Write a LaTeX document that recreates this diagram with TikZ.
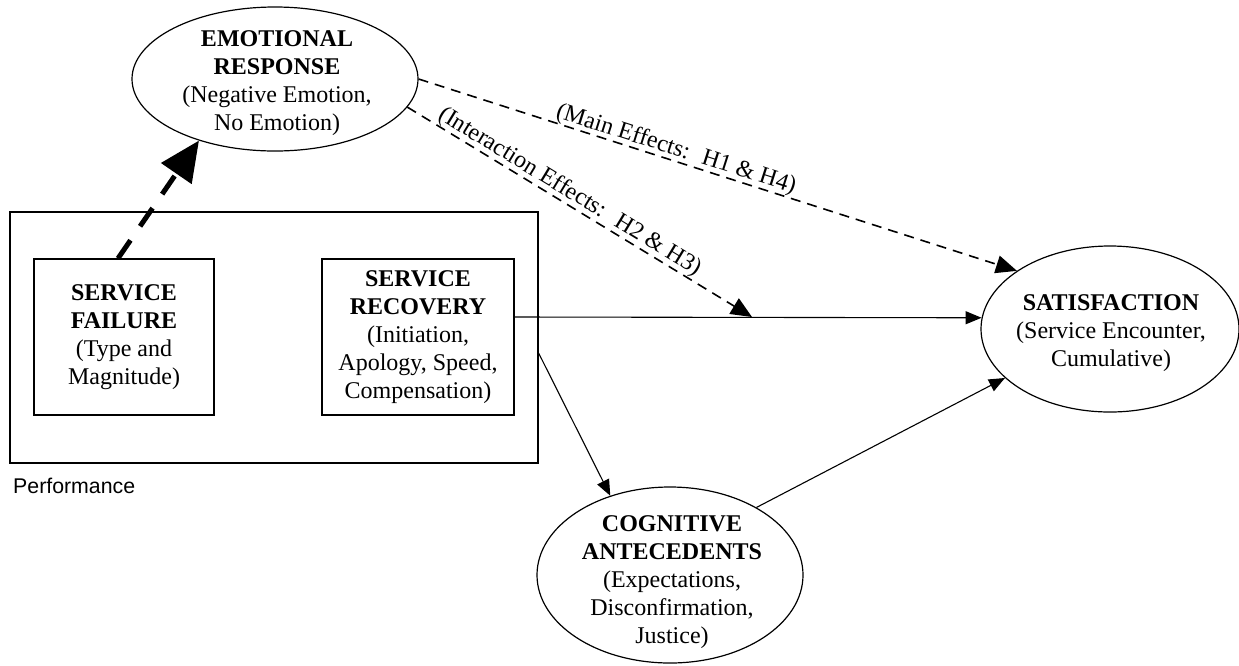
\documentclass[tikz,border=0pt]{standalone}
\usepackage{fontspec}
\setmainfont{Liberation Serif}
\newfontfamily\perffont{Liberation Sans}
\usetikzlibrary{arrows.meta,shapes.geometric}
\begin{document}
\begin{tikzpicture}[x=1pt,y=-1pt,
  boxnode/.style={draw,line width=1.2pt,rectangle,inner sep=0pt,align=center,font=\fontsize{24}{28}\selectfont},
  ellnode/.style={draw,line width=1.2pt,ellipse,inner sep=0pt},
  txtnode/.style={align=center,font=\fontsize{24}{28}\selectfont,inner sep=0pt},
  thinarrow/.style={line width=1.1pt,-{Triangle[length=16pt,width=13pt]}},
  dasharrow/.style={line width=1.6pt,dash pattern=on 10pt off 7pt,-{Triangle[length=21pt,width=18pt]}},
  bigarrow/.style={line width=5pt,dash pattern=on 22pt off 17pt,-{Triangle[length=40pt,width=36pt]}},
  lbl/.style={font=\fontsize{24}{28}\selectfont,inner sep=0pt}]
\useasboundingbox (0,0) rectangle (1239,665);

% Performance frame and boxes
\node[draw,line width=1.2pt,rectangle,inner sep=0pt,minimum width=528pt,minimum height=251pt] (outer) at (274,337.5) {};
\node[anchor=base west,inner sep=0pt,font=\perffont\fontsize{21.3}{24}\selectfont] (perf) at (13,493) {Performance};
\node[boxnode,minimum width=180pt,minimum height=156pt] (fail) at (124,337) {\textbf{SERVICE}\\\textbf{FAILURE}\\(Type and\\Magnitude)};
\node[boxnode,minimum width=192pt,minimum height=156pt] (rec) at (418,337) {\textbf{SERVICE}\\\textbf{RECOVERY}\\(Initiation,\\Apology, Speed,\\Compensation)};

% Ellipses
\node[ellnode,minimum width=286pt,minimum height=144pt] (emo) at (275,79) {};
\node[txtnode] (emot) at (277,83) {\textbf{EMOTIONAL}\\\textbf{RESPONSE}\\(Negative Emotion,\\No Emotion)};
\node[ellnode,minimum width=258pt,minimum height=166pt] (sat) at (1110,329) {};
\node[txtnode] (satt) at (1111,333) {\textbf{SATISFACTION}\\(Service Encounter,\\Cumulative)};
\node[ellnode,minimum width=266pt,minimum height=176pt] (cog) at (670,575) {};
\node[txtnode] (cogt) at (672,582) {\textbf{COGNITIVE}\\\textbf{ANTECEDENTS}\\(Expectations,\\Disconfirmation,\\Justice)};

\coordinate (hit) at (752,317);

% Connectors
\draw[bigarrow] ([xshift=-6pt]fail.north) -- (emo.219);
\draw[dasharrow] (emo.east) -- (sat.148);
\draw[dasharrow] (emo.-12) -- (hit);
\draw[thinarrow] ([yshift=20pt]rec.east) -- (sat.175);
\draw[thinarrow] ([yshift=-15.5pt]outer.east) -- (cog.127.3);
\draw[thinarrow] (cog.38.5) -- (sat.205.5);

% Labels
\node[lbl,rotate=-17.7] (mainlbl) at (676,149.5) {(Main Effects:~ H1 \& H4)};
\node[lbl,rotate=-31.3] (intlbl) at (570,192) {(Interaction Effects:~ H2 \& H3)};
\end{tikzpicture}
\end{document}
